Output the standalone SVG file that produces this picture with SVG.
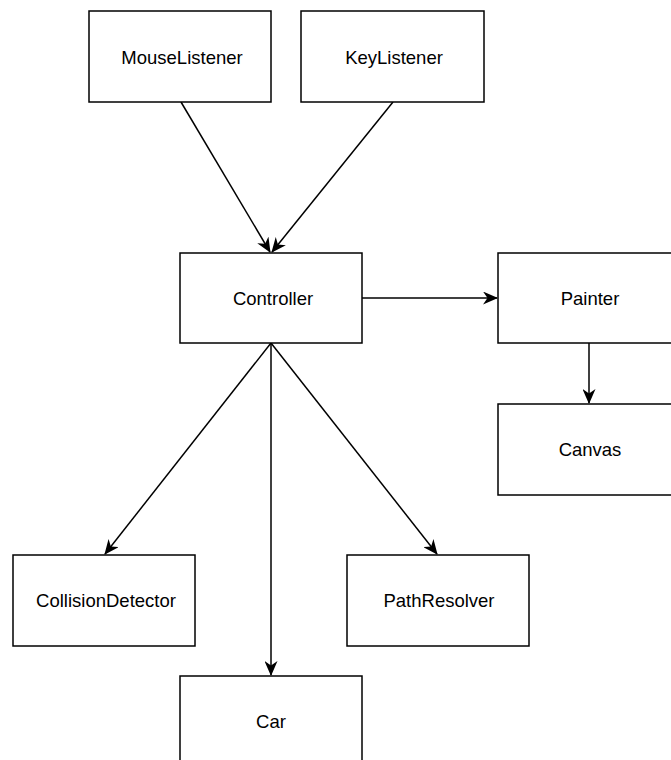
<svg xmlns="http://www.w3.org/2000/svg" width="671" height="760" viewBox="0 0 671 760">
<style>
.box{fill:#ffffff;stroke:#000000;stroke-width:1.5}
.lbl{font-family:"Liberation Sans",Arial,Helvetica,sans-serif;font-size:18.5px;fill:#000000;text-anchor:middle}
.edge{fill:none;stroke:#000000;stroke-width:1.5}
</style>
<defs>
<marker id="arrow" viewBox="0 0 15 13" refX="14" refY="6.5" markerWidth="15" markerHeight="13" markerUnits="userSpaceOnUse" orient="auto">
<path d="M0,0 L15,6.5 L0,13 L4.5,6.5 Z" fill="#000000"/>
</marker>
</defs>
<rect width="671" height="760" fill="#ffffff"/>
<g id="connectors">
<line class="edge" x1="181" y1="102" x2="270" y2="252" marker-end="url(#arrow)"/>
<line class="edge" x1="393" y1="102" x2="272" y2="252" marker-end="url(#arrow)"/>
<line class="edge" x1="362" y1="298" x2="497" y2="298" marker-end="url(#arrow)"/>
<line class="edge" x1="589" y1="343" x2="589" y2="403" marker-end="url(#arrow)"/>
<line class="edge" x1="271" y1="343" x2="105" y2="554" marker-end="url(#arrow)"/>
<line class="edge" x1="271" y1="343" x2="271" y2="675" marker-end="url(#arrow)"/>
<line class="edge" x1="271" y1="343" x2="437" y2="554" marker-end="url(#arrow)"/>
</g>
<g id="MouseListener"><rect class="box" x="89" y="11" width="182" height="91"/><text class="lbl" x="182" y="64">MouseListener</text></g>
<g id="KeyListener"><rect class="box" x="301" y="11" width="183" height="91"/><text class="lbl" x="394" y="64">KeyListener</text></g>
<g id="Controller"><rect class="box" x="180" y="253" width="182" height="90"/><text class="lbl" x="273" y="305">Controller</text></g>
<g id="Painter"><rect class="box" x="498" y="253" width="182" height="90"/><text class="lbl" x="590" y="305">Painter</text></g>
<g id="Canvas"><rect class="box" x="498" y="404" width="182" height="91"/><text class="lbl" x="590" y="456">Canvas</text></g>
<g id="CollisionDetector"><rect class="box" x="13" y="555" width="182" height="91"/><text class="lbl" x="106" y="607">CollisionDetector</text></g>
<g id="PathResolver"><rect class="box" x="347" y="555" width="182" height="91"/><text class="lbl" x="439" y="607">PathResolver</text></g>
<g id="Car"><rect class="box" x="180" y="676" width="182" height="91"/><text class="lbl" x="271" y="728">Car</text></g>
</svg>
